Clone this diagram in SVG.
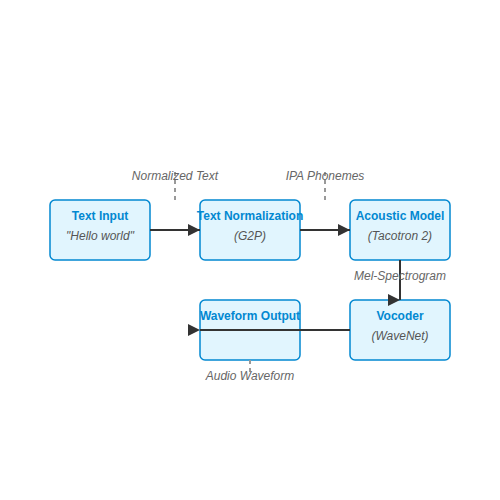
<svg xmlns="http://www.w3.org/2000/svg" width="500" height="500" viewBox="0 0 500 500">
<defs>
<style>
.box{fill:#e1f5fe;stroke:#0288d1;stroke-width:1.5}
.title{font-family:"Liberation Sans",Arial,sans-serif;font-size:12px;font-weight:bold;fill:#0288d1;text-anchor:middle}
.sub{font-family:"Liberation Sans",Arial,sans-serif;font-size:12px;font-style:italic;fill:#555;text-anchor:middle}
.lbl{font-family:"Liberation Sans",Arial,sans-serif;font-size:12px;font-style:italic;fill:#666;text-anchor:middle}
.edge{stroke:#333;stroke-width:2;fill:none}
.dash{stroke:#999;stroke-width:2;stroke-dasharray:4,4;fill:none}
</style>
<marker id="arr" viewBox="0 0 10 10" refX="10" refY="5" markerWidth="13" markerHeight="12" markerUnits="userSpaceOnUse" orient="0">
<path d="M0,0 L10,5 L0,10 Z" fill="#333"/>
</marker>
</defs>
<rect width="500" height="500" fill="#fff"/>
<g id="text-input">
<rect class="box" x="50" y="200" width="100" height="60" rx="5"/>
<text class="title" x="100" y="220">Text Input</text>
<text class="sub" x="100" y="240">"Hello world"</text>
</g>
<g id="text-normalization">
<rect class="box" x="200" y="200" width="100" height="60" rx="5"/>
<text class="title" x="250" y="220">Text Normalization</text>
<text class="sub" x="250" y="240">(G2P)</text>
</g>
<g id="acoustic-model">
<rect class="box" x="350" y="200" width="100" height="60" rx="5"/>
<text class="title" x="400" y="220">Acoustic Model</text>
<text class="sub" x="400" y="240">(Tacotron 2)</text>
</g>
<g id="vocoder">
<rect class="box" x="350" y="300" width="100" height="60" rx="5"/>
<text class="title" x="400" y="320">Vocoder</text>
<text class="sub" x="400" y="340">(WaveNet)</text>
</g>
<g id="waveform-output">
<rect class="box" x="200" y="300" width="100" height="60" rx="5"/>
<text class="title" x="250" y="320">Waveform Output</text>
</g>
<g id="connectors">
<line class="edge" x1="150" y1="230" x2="200" y2="230" marker-end="url(#arr)"/>
<line class="edge" x1="300" y1="230" x2="350" y2="230" marker-end="url(#arr)"/>
<line class="edge" x1="400" y1="260" x2="400" y2="300" marker-end="url(#arr)"/>
<line class="edge" x1="350" y1="330" x2="200" y2="330" marker-end="url(#arr)"/>
<line class="dash" x1="175" y1="172" x2="175" y2="200"/>
<line class="dash" x1="325" y1="172" x2="325" y2="200"/>
<line class="dash" x1="250" y1="360" x2="250" y2="376"/>
</g>
<g id="labels">
<text class="lbl" x="175" y="180">Normalized Text</text>
<text class="lbl" x="325" y="180">IPA Phonemes</text>
<text class="lbl" x="400" y="280">Mel-Spectrogram</text>
<text class="lbl" x="250" y="380">Audio Waveform</text>
</g>
</svg>
